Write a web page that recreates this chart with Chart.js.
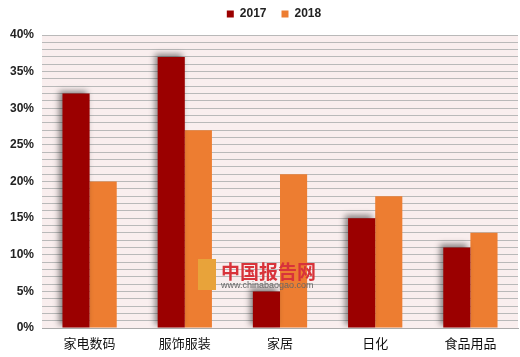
<!DOCTYPE html>
<html><head><meta charset="utf-8">
<script src="https://cdn.jsdelivr.net/npm/chart.js@4/dist/chart.umd.min.js"></script>
<style>html,body{margin:0;padding:0;background:#fff}#wrap{width:520px;height:357px}</style>
</head><body><div id="wrap"><canvas id="c" width="520" height="357"></canvas></div>
<script>
const categories = ["家电数码","服饰服装","家居","日化","食品用品"];
const values2017 = [32, 37, 5, 15, 11];
const values2018 = [20, 27, 21, 18, 13];
const seriesNames = ["2017","2018"];

const bgPlugin = {
  id:'bg',
  beforeLayout(chart){
    const lg = chart.legend;
    if(lg && !lg._patched){
      const orig = lg.fit;
      lg.fit = function(){ orig.call(this); this.height = 35; };
      lg._patched = true;
    }
  },
  afterLayout(chart){ const lg=chart.legend; if(lg){ lg.left+=15; lg.right+=15; lg.top-=7; lg.bottom-=7; } },
  beforeDraw(chart){
    const {ctx, chartArea:a} = chart;
    ctx.save(); ctx.fillStyle='#f9eeee'; ctx.fillRect(a.left,a.top,a.right-a.left,a.bottom-a.top); ctx.restore();
  },
  beforeDatasetDraw(chart,args){
    if(args.index===0){ const ctx=chart.ctx; ctx.save(); ctx.shadowColor='rgba(0,0,0,0.45)'; ctx.shadowBlur=6; ctx.shadowOffsetX=-3; ctx.shadowOffsetY=-3; }
  },
  afterDatasetDraw(chart,args){ if(args.index===0) chart.ctx.restore(); },
  afterDraw(chart){
    const ctx=chart.ctx; ctx.save();
    ctx.fillStyle='#d8333a'; ctx.font='bold 19px "Noto Sans CJK SC"'; ctx.textBaseline='middle';
    ctx.fillText('中国报告网', 221, 272);
    ctx.fillStyle='#666'; ctx.font='9px "Liberation Sans"';
    ctx.fillText('www.chinabaogao.com', 221, 286);
    ctx.fillStyle='#e8a33a'; ctx.fillRect(198,259,18,31);
    ctx.restore();
  }
};

new Chart(document.getElementById('c'), {
  type:'bar',
  data:{ labels:categories, datasets:[
    {label:seriesNames[0], data:values2017, backgroundColor:'#9b0000', borderWidth:0, categoryPercentage:0.57, barPercentage:1.0},
    {label:seriesNames[1], data:values2018, backgroundColor:'#ed7d31', borderWidth:0, categoryPercentage:0.57, barPercentage:1.0}
  ]},
  plugins:[bgPlugin],
  options:{
    responsive:false, animation:false,
    layout:{padding:{left:0,right:2,top:0,bottom:0}},
    plugins:{
      legend:{position:'top', labels:{boxWidth:7, boxHeight:7, padding:15, color:'#222', font:{family:'Liberation Sans', size:12, weight:'bold'}}},
      tooltip:{enabled:false}
    },
    scales:{
      x:{ grid:{display:false}, border:{color:'#aaa', width:1},
          afterFit:(s)=>{s.height=29;},
          ticks:{color:'#111', font:{family:'Noto Sans CJK SC', size:13}, padding:-1}},
      y:{ min:0, max:40, border:{display:false},
          afterFit:(s)=>{s.width=42;},
          grid:{color:'#b9b9b9', lineWidth:1, drawTicks:false},
          ticks:{stepSize:1, autoSkip:false, padding:8, color:'#222', font:{family:'Liberation Sans', size:12, weight:'bold'},
                 callback:(v)=> v%5===0 ? v+'%' : ''}}
    }
  }
});
</script></body></html>
